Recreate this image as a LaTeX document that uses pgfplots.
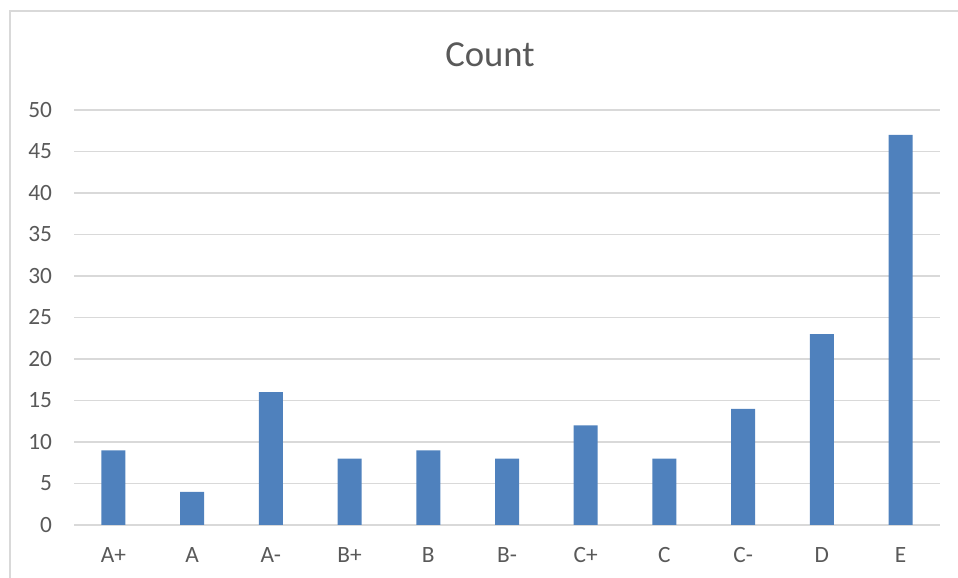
\documentclass[border=0pt]{standalone}
\usepackage{pgfplots}
\pgfplotsset{compat=1.18}
\usepackage{fontspec}
\setmainfont{Carlito}
\definecolor{barblue}{HTML}{4F81BD}
\definecolor{txtgray}{HTML}{595959}
\definecolor{gridgray}{HTML}{D9D9D9}
\begin{document}
\begin{tikzpicture}[x=0.75pt,y=0.75pt]
\path[use as bounding box] (0,0) rectangle (958,578);
\draw[gridgray,line width=1.5pt] (10,0) -- (10,567) -- (958,567);
\node[txtgray,font=\fontsize{27.5}{32}\selectfont] at (490,523) {Count};
\begin{axis}[
  at={(74*0.75pt,53*0.75pt)}, anchor=south west,
  width=866*0.75pt, height=415*0.75pt, scale only axis,
  xmin=-0.5, xmax=10.5, ymin=0, ymax=50,
  ybar, bar width=18pt,
  axis line style={draw=none},
  xtick={0,...,10},
  xticklabels={A+,A,A-,B+,B,B-,C+,C,C-,D,E},
  ytick={0,5,...,50},
  major tick length=0pt,
  ymajorgrids, grid style={gridgray,line width=1pt},
  tick label style={txtgray,font=\fontsize{17.5}{20}\selectfont},
  /pgf/number format/assume math mode=true,
  yticklabel style={xshift=-13pt},
  xticklabel style={yshift=-13pt},
]
\addplot[fill=barblue,draw=none] coordinates {
(0,9) (1,4) (2,16) (3,8) (4,9) (5,8) (6,12) (7,8) (8,14) (9,23) (10,47)};
\end{axis}
\end{tikzpicture}
\end{document}
